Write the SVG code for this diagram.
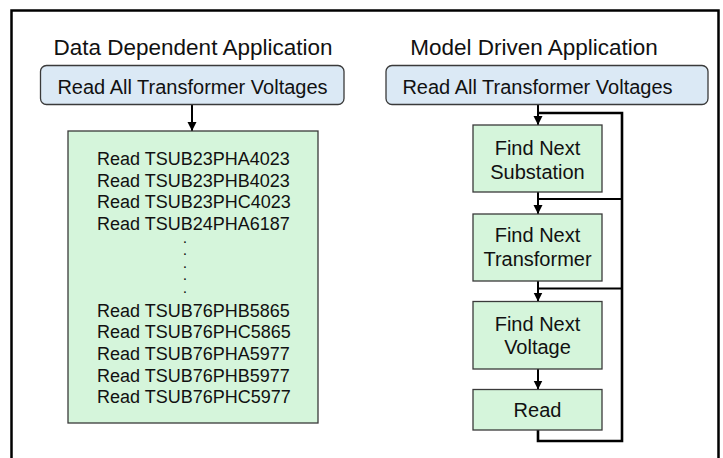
<svg xmlns="http://www.w3.org/2000/svg" width="723" height="458" viewBox="0 0 723 458">
  <defs>
    <marker id="arr" markerUnits="userSpaceOnUse" markerWidth="10" markerHeight="10" refX="9" refY="5" orient="auto">
      <path d="M0,0.5 L9,5 L0,9.5 z" fill="#000"/>
    </marker>
  </defs>
  <style>
    text { font-family: "Liberation Sans", Arial, sans-serif; fill: #111; }
    .title { font-size: 22.5px; text-anchor: middle; }
    .hdr { font-size: 20px; text-anchor: middle; }
    .blue { fill: #dbe9f5; stroke: #3a3a3a; stroke-width: 1.3; }
    .green { fill: #d5f5db; stroke: #3a3a3a; stroke-width: 1.3; }
    .lst { font-size: 18px; }
    .step { font-size: 20px; text-anchor: middle; }
    .dot { font-size: 10.5px; font-weight: bold; text-anchor: middle; }
    .conn { fill: none; stroke: #000; stroke-width: 2; }
    .loop { fill: none; stroke: #000; stroke-width: 2.6; }
  </style>

  <rect x="0" y="0" width="723" height="458" fill="#fff"/>
  <path d="M11.5,470 V10.5 H718.5 V470" fill="none" stroke="#000" stroke-width="2.5"/>

  <text class="title" x="193" y="55">Data Dependent Application</text>
  <text class="title" x="534" y="55">Model Driven Application</text>

  <g id="connectors">
    <line class="conn" x1="192" y1="105" x2="192" y2="131" marker-end="url(#arr)"/>
    <line class="conn" x1="538" y1="105" x2="538" y2="125" marker-end="url(#arr)"/>
    <line class="conn" x1="538" y1="192" x2="538" y2="214" marker-end="url(#arr)"/>
    <line class="conn" x1="538" y1="281" x2="538" y2="301.5" marker-end="url(#arr)"/>
    <line class="conn" x1="538" y1="369" x2="538" y2="389.5" marker-end="url(#arr)"/>
    <path class="loop" d="M538,430 V441 H622 V113 H538"/>
    <path class="conn" d="M538,199 H622"/>
    <path class="conn" d="M538,288.5 H622"/>
  </g>

  <g id="left-read-all">
    <rect class="blue" x="40.5" y="65.5" width="303.5" height="39" rx="6"/>
    <text class="hdr" x="192.5" y="94">Read All Transformer Voltages</text>
  </g>

  <g id="left-list">
    <rect class="green" x="68" y="131" width="250" height="292"/>
    <text class="lst" x="97" y="165">Read TSUB23PHA4023</text>
    <text class="lst" x="97" y="186.7">Read TSUB23PHB4023</text>
    <text class="lst" x="97" y="208.3">Read TSUB23PHC4023</text>
    <text class="lst" x="97" y="230">Read TSUB24PHA6187</text>
    <text class="dot" x="185" y="243">.</text>
    <text class="dot" x="185" y="255.4">.</text>
    <text class="dot" x="185" y="267.8">.</text>
    <text class="dot" x="185" y="280.2">.</text>
    <text class="dot" x="185" y="292.6">.</text>
    <text class="lst" x="97" y="316.7">Read TSUB76PHB5865</text>
    <text class="lst" x="97" y="338.3">Read TSUB76PHC5865</text>
    <text class="lst" x="97" y="360">Read TSUB76PHA5977</text>
    <text class="lst" x="97" y="381.7">Read TSUB76PHB5977</text>
    <text class="lst" x="97" y="403.3">Read TSUB76PHC5977</text>
  </g>

  <g id="right-read-all">
    <rect class="blue" x="386" y="65.5" width="322" height="39" rx="6"/>
    <text class="hdr" x="537.5" y="94">Read All Transformer Voltages</text>
  </g>

  <g id="find-substation">
    <rect class="green" x="473" y="125" width="129" height="67"/>
    <text class="step" x="537.5" y="155">Find Next</text>
    <text class="step" x="537.5" y="179.3">Substation</text>
  </g>

  <g id="find-transformer">
    <rect class="green" x="473" y="214" width="129" height="67"/>
    <text class="step" x="537.5" y="241.7">Find Next</text>
    <text class="step" x="537.5" y="266">Transformer</text>
  </g>

  <g id="find-voltage">
    <rect class="green" x="473" y="301.5" width="129" height="67.5"/>
    <text class="step" x="537.5" y="330.7">Find Next</text>
    <text class="step" x="537.5" y="354.3">Voltage</text>
  </g>

  <g id="read">
    <rect class="green" x="473" y="389.5" width="129" height="40.5"/>
    <text class="step" x="537.5" y="416.7">Read</text>
  </g>
</svg>
